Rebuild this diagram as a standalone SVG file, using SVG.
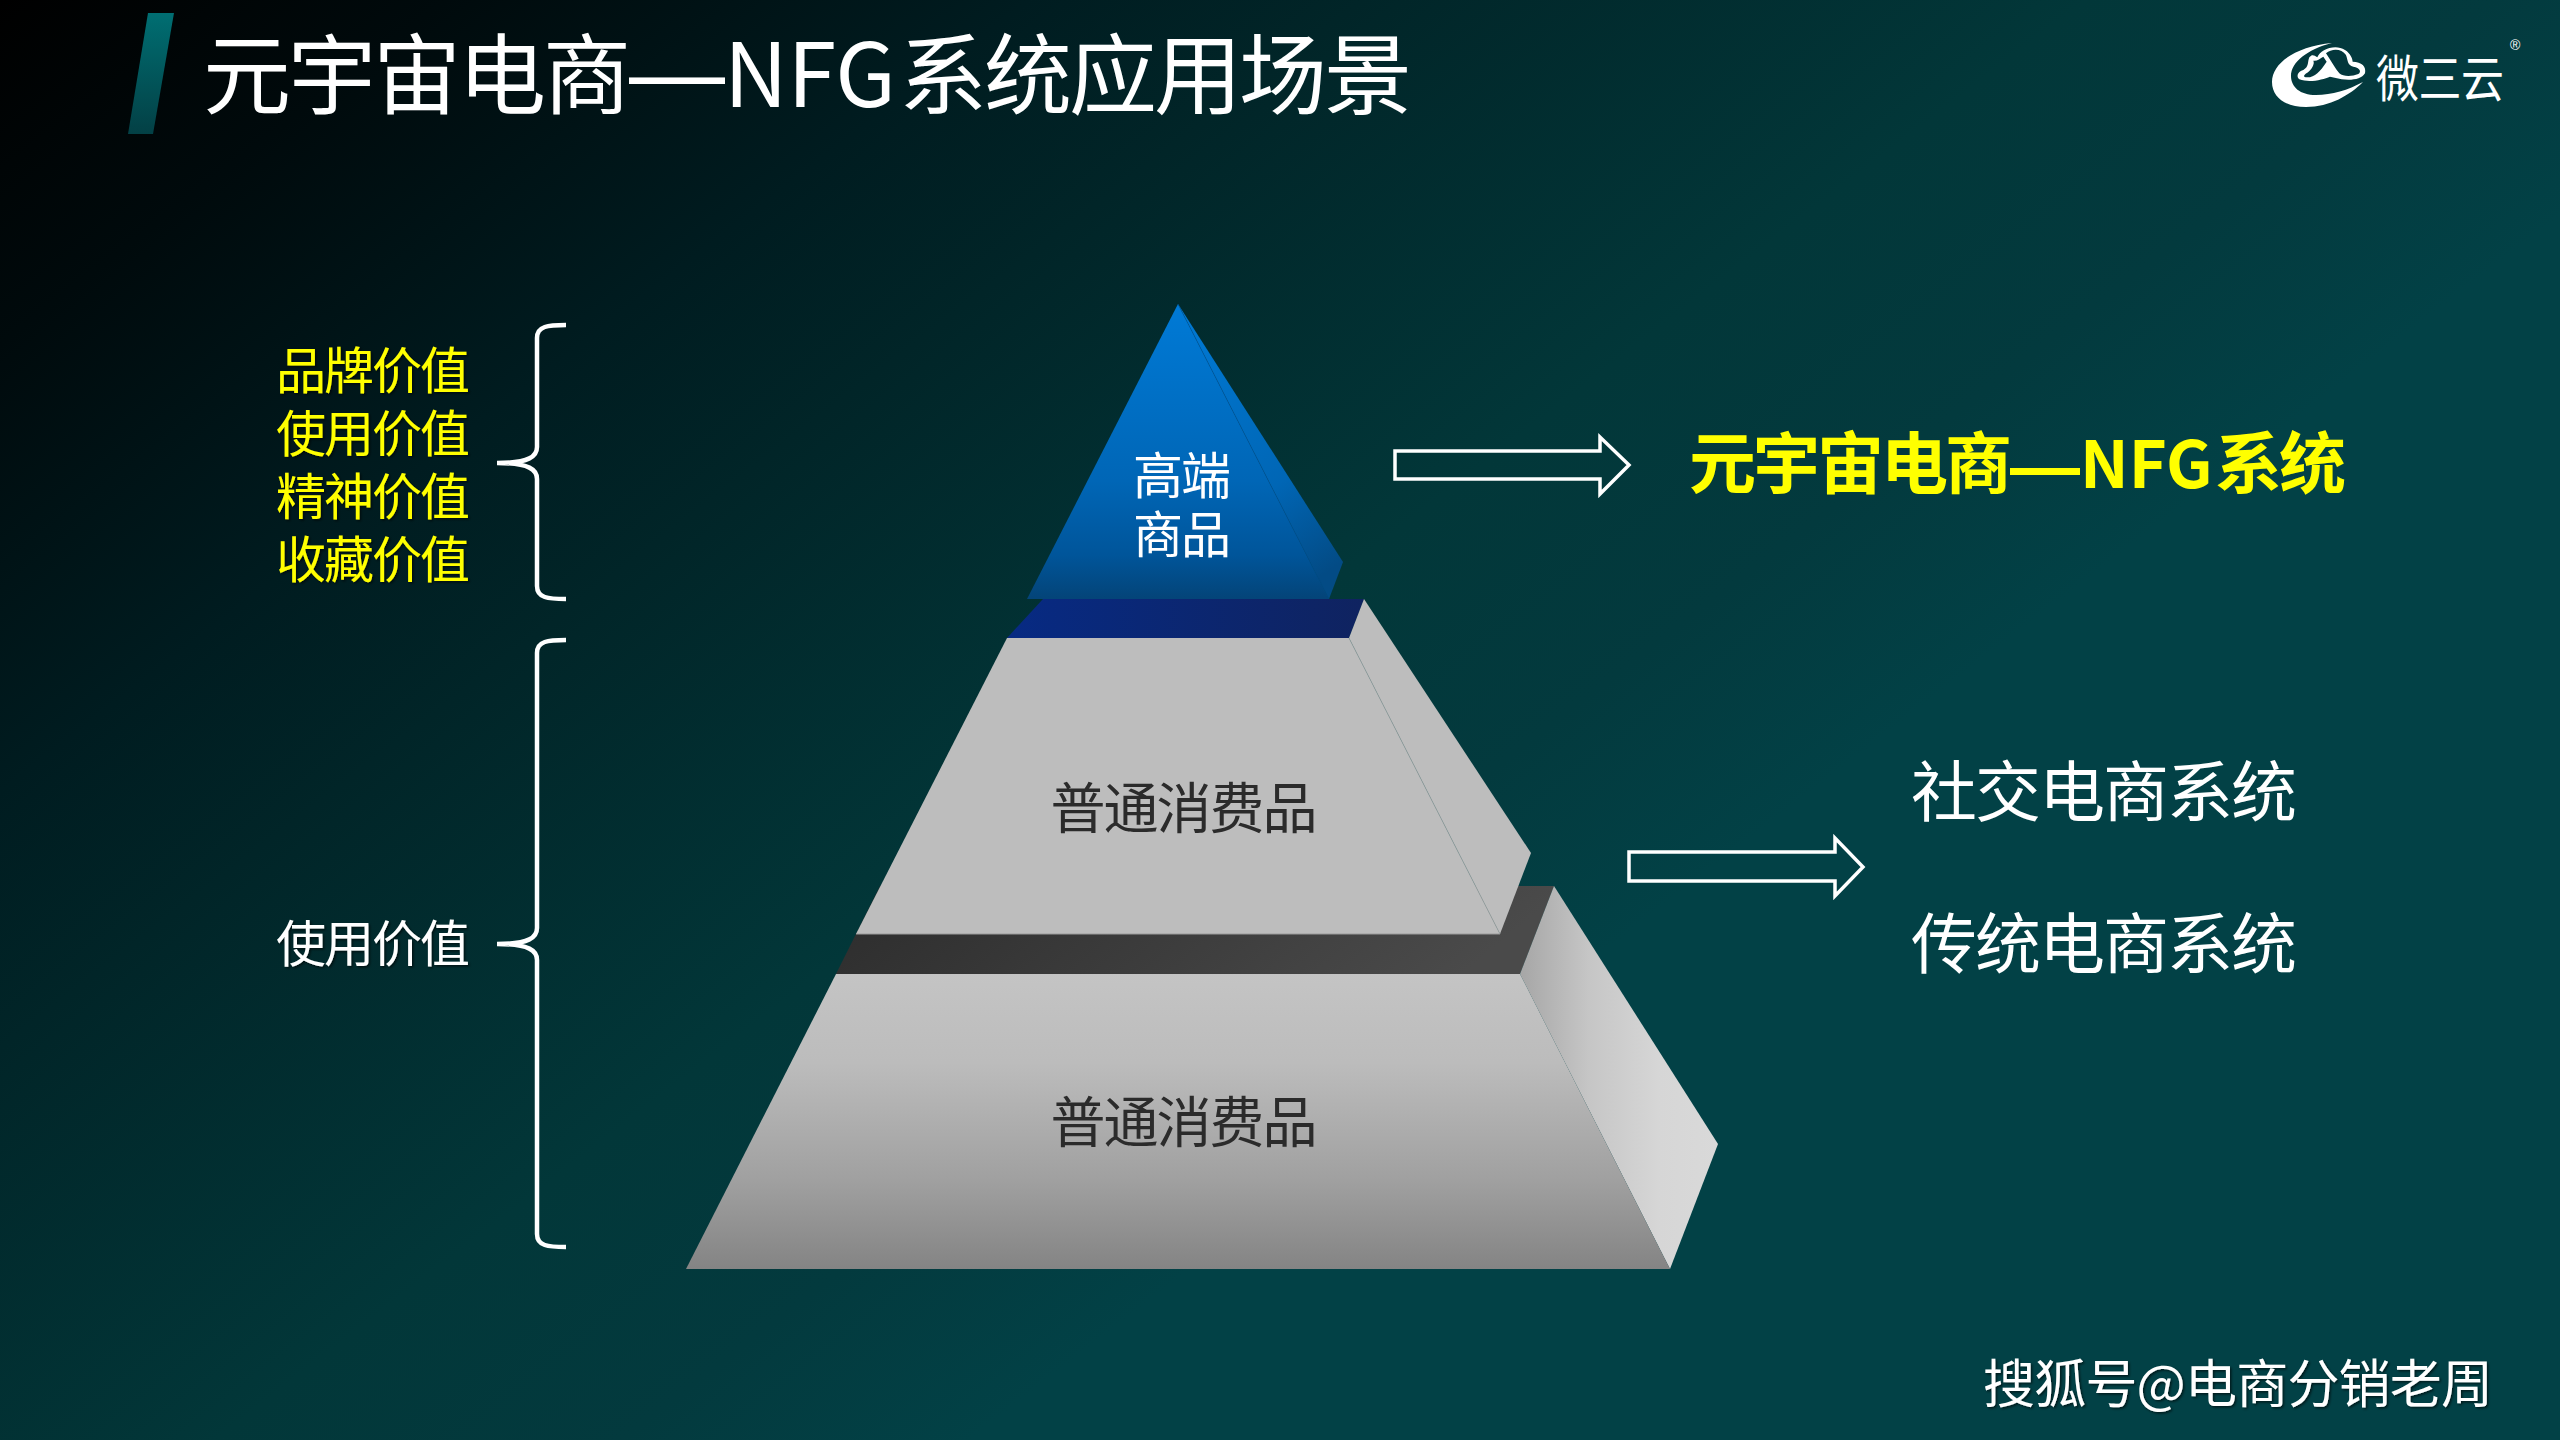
<svg xmlns="http://www.w3.org/2000/svg" width="2560" height="1440" viewBox="0 0 2560 1440">
<style>
text{font-family:"Noto Sans CJK SC","Noto Sans",sans-serif}
.y{fill:#ffff00;font-size:50px;letter-spacing:-2px;filter:url(#sh)}
.w{fill:#fff}
.d{fill:#2b2b2b;font-size:55px;letter-spacing:-2px;text-anchor:middle}
.dash{font-family:"Liberation Sans",sans-serif}
.br{fill:none;stroke:#fff;stroke-width:4.5;stroke-linecap:butt}
.ar{fill:none;stroke:#fff;stroke-width:3.5;stroke-linejoin:miter}
</style>
<defs>
<filter id="sh" x="-5%" y="-10%" width="110%" height="125%"><feDropShadow dx="1.5" dy="1.5" stdDeviation="1" flood-color="#000" flood-opacity=".6"/></filter>
<linearGradient id="bg" gradientUnits="userSpaceOnUse" x1="0" y1="0" x2="1078" y2="1401">
<stop offset="0" stop-color="#000"/><stop offset=".154" stop-color="#000a0c"/><stop offset=".355" stop-color="#001c20"/><stop offset=".47" stop-color="#012528"/><stop offset=".72" stop-color="#023739"/><stop offset=".86" stop-color="#033a3e"/><stop offset=".98" stop-color="#024146"/></linearGradient>
<linearGradient id="bar" x1="0" y1="0" x2="0" y2="1"><stop offset="0" stop-color="#006e72"/><stop offset="1" stop-color="#034045"/></linearGradient>
<linearGradient id="blue" x1="0" y1="0" x2="0" y2="1"><stop offset="0" stop-color="#007ad6"/><stop offset=".6" stop-color="#0066b6"/><stop offset=".85" stop-color="#00559a"/><stop offset="1" stop-color="#044478"/></linearGradient>
<linearGradient id="blueS" gradientUnits="userSpaceOnUse" x1="1178" y1="304" x2="1343" y2="562"><stop offset="0" stop-color="#007ad6"/><stop offset=".67" stop-color="#0066b5"/><stop offset="1" stop-color="#034b85"/></linearGradient>
<linearGradient id="navy" x1="0" y1="0" x2="1" y2="0"><stop offset="0" stop-color="#072a83"/><stop offset="1" stop-color="#0f2360"/></linearGradient>
<linearGradient id="dark" x1="0" y1="0" x2="1" y2="0.15"><stop offset="0" stop-color="#2c2c2c"/><stop offset="1" stop-color="#4a4a4a"/></linearGradient>
<linearGradient id="g3" x1="0" y1="0" x2="0" y2="1"><stop offset="0" stop-color="#c4c4c4"/><stop offset=".3" stop-color="#bcbcbc"/><stop offset=".7" stop-color="#a0a0a0"/><stop offset="1" stop-color="#848484"/></linearGradient>
<linearGradient id="g3s" gradientUnits="userSpaceOnUse" x1="1520" y1="0" x2="1718" y2="0"><stop offset="0" stop-color="#a6a6a6"/><stop offset=".35" stop-color="#c6c6c6"/><stop offset=".7" stop-color="#d6d6d6"/><stop offset="1" stop-color="#d9d9d9"/></linearGradient>
</defs>
<rect width="2560" height="1440" fill="url(#bg)"/>
<g id="title">
<polygon points="148,13 174,13 153,134 128,134" fill="url(#bar)"/>
<text y="107" class="w" font-size="88"><tspan x="203" letter-spacing="-3">元宇宙电商</tspan><tspan class="dash" x="629" font-size="96" y="105">—</tspan><tspan x="724" y="107">NFG</tspan><tspan x="899" letter-spacing="-3">系统应用场景</tspan></text>
</g>
<g id="logo" fill="#fff">
<path d="M2332 43C2298 46 2272 62 2272 82C2272 97 2285 107 2306 107C2330 107 2350 95 2363 82C2348 90 2332 95 2316 95C2300 95 2291 87 2291 76C2291 62 2308 49 2332 43Z"/>
<g transform="translate(2220 20) scale(.3333)">
<path d="M268,112C276,102 282,105 292,112C300,90 345,70 375,90C392,100 398,118 398,125C425,125 440,140 435,160C425,178 395,182 365,178L330,170C310,178 270,190 238,178C228,170 232,155 250,150C268,140 262,125 268,112Z"/>
<path d="M318,100C335,85 365,85 378,105C385,125 382,135 400,140C420,143 425,155 415,162C395,170 370,170 358,160C345,145 335,125 318,100Z" fill="#03373c"/>
<path d="M280,122C285,130 275,150 262,158C250,165 248,172 262,172C285,172 300,155 320,125L310,110C300,115 290,125 280,122Z" fill="#03373c"/>
</g>
<text transform="translate(2376 97) scale(1 1.15)" font-size="43" letter-spacing="-.5">微三云</text>
<text class="dash" x="2510" y="50" font-size="14">®</text>
</g>
<g id="value-top">
<text class="y" x="276" y="389">品牌价值</text>
<text class="y" x="276" y="452">使用价值</text>
<text class="y" x="276" y="515">精神价值</text>
<text class="y" x="276" y="578">收藏价值</text>
</g>
<g id="value-bottom"><text x="276" y="962" class="y" style="fill:#fff">使用价值</text></g>
<g id="tier-bottom">
<polygon points="836,974 1520,974 1554,886 880,886" fill="url(#dark)"/>
<polygon points="1520,974 1554,886 1718,1144 1670,1269" fill="url(#g3s)"/>
<polygon points="836,974 1520,974 1670,1269 686,1269" fill="url(#g3)"/>
<text class="d" x="1183" y="1142">普通消费品</text>
</g>
<g id="tier-middle">
<polygon points="1043,599 1364,599 1349,638 1007,638" fill="url(#navy)"/>
<polygon points="1349,638 1364,599 1531,853 1500,934" fill="#bdbdbd"/>
<polygon points="1007,638 1349,638 1500,934 856,934" fill="#bdbdbd"/>
<line x1="1349" y1="638" x2="1500" y2="934" stroke="#8f9c9c" stroke-width="1" stroke-opacity=".7"/>
<line x1="856" y1="934" x2="1500" y2="934" stroke="#9a9a9a" stroke-width="1"/>
<text class="d" x="1183" y="828">普通消费品</text>
</g>
<g id="tier-top">
<polygon points="1178,304 1343,562 1329,599" fill="url(#blueS)"/>
<polygon points="1178,304 1329,599 1027,599" fill="url(#blue)"/>
<line x1="1178" y1="304" x2="1329" y2="599" stroke="#00508f" stroke-width="1" stroke-opacity=".5"/>
<text x="1181" y="494" class="w" font-size="50" letter-spacing="-2" text-anchor="middle">高端</text>
<text x="1181" y="553" class="w" font-size="50" letter-spacing="-2" text-anchor="middle">商品</text>
</g>
<g id="connectors">
<path class="br" d="M566 325C548 325 537 326 537 338V447C537 456 530 463 497 463C530 463 537 470 537 479V586C537 598 548 599 566 599"/>
<path class="br" d="M566 640C548 640 537 641 537 653V928C537 937 530 944 497 944C530 944 537 951 537 960V1234C537 1246 548 1247 566 1247"/>
<polygon class="ar" points="1395,451 1600,451 1600,437 1629,465 1600,494 1600,479 1395,479"/>
<polygon class="ar" points="1629,852 1835,852 1835,838 1863,867 1835,896 1835,881 1629,881"/>
</g>
<g id="target-nfg"><text y="488" fill="#ffff00" font-size="67" font-weight="700"><tspan x="1689" letter-spacing="-3">元宇宙电商</tspan><tspan class="dash" x="2010" font-size="70" y="490">—</tspan><tspan x="2080" y="488" font-size="65">NFG</tspan><tspan x="2215" letter-spacing="-3">系统</tspan></text></g>
<g id="target-social"><text x="1911" y="816" class="w" font-size="66" letter-spacing="-2">社交电商系统</text></g>
<g id="target-trad"><text x="1911" y="968" class="w" font-size="66" letter-spacing="-2">传统电商系统</text></g>
<g id="watermark"><text x="1983" y="1403" class="w" font-size="52" filter="url(#sh)" textLength="510" lengthAdjust="spacing">搜狐号@电商分销老周</text></g>
</svg>
